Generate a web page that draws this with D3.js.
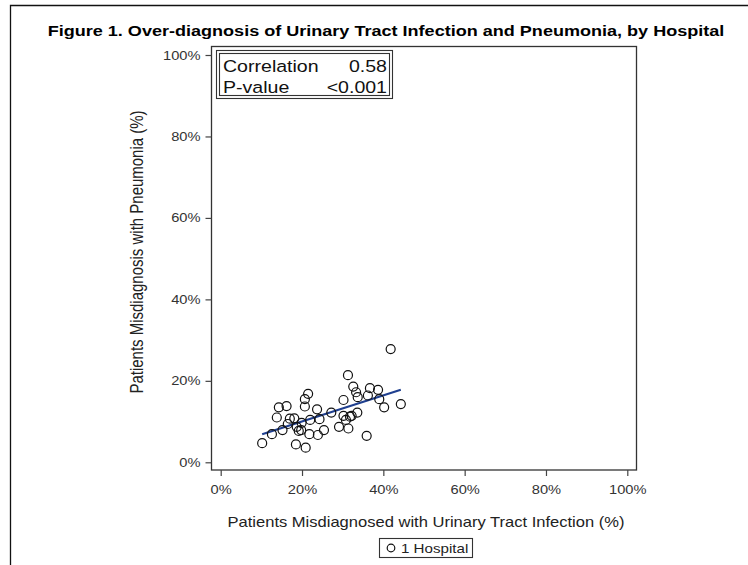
<!DOCTYPE html>
<html>
<head>
<meta charset="utf-8">
<script src="https://cdn.jsdelivr.net/npm/d3@7"></script>
<style>
  html, body { margin: 0; padding: 0; background: #fff; }
  svg { display: block; font-family: "Liberation Sans", Arial, sans-serif; }
</style>
</head>
<body>
<svg id="chart" width="748" height="565"></svg>
<script>
// ---- data ----
const titleText = "Figure 1. Over-diagnosis of Urinary Tract Infection and Pneumonia, by Hospital";
const xLabel = "Patients Misdiagnosed with Urinary Tract Infection (%)";
const yLabel = "Patients Misdiagnosis with Pneumonia (%)";
const seriesName = "1 Hospital";
const tickValues = [0, 20, 40, 60, 80, 100];
const utiPct = [10.2, 12.6, 13.8, 14.3, 16.2, 15.2, 16.5, 17.0, 18.1, 18.7, 19.2, 18.5, 20.9, 19.9, 19.8,
                20.7, 20.7, 21.5, 22.0, 21.8, 23.9, 23.7, 24.3, 25.4, 27.2, 29.1, 30.2, 30.2, 30.8, 31.4,
                31.3, 31.8, 32.6, 33.3, 33.7, 33.6, 32.2, 35.9, 36.2, 36.7, 38.7, 39.0, 40.2, 44.3, 41.8];
const pneuPct = [4.7, 6.9, 11.0, 13.5, 13.8, 7.9, 9.4, 10.7, 10.8, 8.7, 7.7, 4.4, 3.6, 9.7, 7.9,
                 13.7, 15.5, 16.8, 10.4, 6.9, 6.7, 13.0, 10.6, 7.9, 12.2, 8.7, 15.3, 11.4, 10.4, 8.3,
                 21.4, 11.2, 18.6, 17.2, 16.0, 12.2, 11.4, 6.5, 16.4, 18.2, 17.8, 15.5, 13.5, 14.3, 27.8];
const fitX = [10.2, 44.3];
const fitY = [6.9, 17.8];
const statLabels = ["Correlation", "P-value"];
const statValues = ["0.58", "<0.001"];

// ---- layout ----
const svg = d3.select("#chart");
const SX = 1.165; // horizontal stretch of the original figure's lettering
const frame = { left: 211.5, right: 636.5, top: 46.5, bottom: 470 };
const x = d3.scaleLinear().domain([0, 100]).range([220.7, 627.3]);
const y = d3.scaleLinear().domain([0, 100]).range([462.3, 55]);
const textColor = "#222";

function stretched(sel, ax) {
  return sel.attr("transform", `translate(${ax},0) scale(${SX},1) translate(${-ax},0)`);
}

// outer figure border
svg.append("path")
  .attr("d", "M10.5,565 L10.5,5.5 L748,5.5")
  .attr("fill", "none").attr("stroke", "#111").attr("stroke-width", 1.3);

// title
stretched(svg.append("text")
  .attr("x", 386).attr("y", 36)
  .attr("text-anchor", "middle")
  .attr("font-weight", "bold").attr("font-size", 15.5)
  .attr("fill", "#000")
  .text(titleText), 386);

// plot frame
svg.append("rect")
  .attr("x", frame.left).attr("y", frame.top)
  .attr("width", frame.right - frame.left).attr("height", frame.bottom - frame.top)
  .attr("fill", "none").attr("stroke", "#333").attr("stroke-width", 1.3);

// axes
const fmt = d => d + "%";
const xAxis = svg.append("g")
  .attr("transform", `translate(0,${frame.bottom})`)
  .call(d3.axisBottom(x).tickValues(tickValues).tickFormat(fmt).tickSize(6).tickPadding(9));
const yAxis = svg.append("g")
  .attr("transform", `translate(${frame.left},0)`)
  .call(d3.axisLeft(y).tickValues(tickValues).tickFormat(fmt).tickSize(6).tickPadding(5));
[xAxis, yAxis].forEach(g => {
  g.select(".domain").remove();
  g.selectAll(".tick line").attr("stroke", "#444").attr("stroke-width", 1.2);
  g.selectAll(".tick text").attr("font-size", 12.6).attr("fill", "#333")
    .attr("font-family", "Liberation Sans, Arial, sans-serif");
});
xAxis.selectAll(".tick text").attr("transform", `scale(${SX},1)`);
yAxis.selectAll(".tick text").each(function() {
  const ax = +d3.select(this).attr("x");
  stretched(d3.select(this), ax);
});

// axis labels
stretched(svg.append("text")
  .attr("x", 426).attr("y", 527)
  .attr("text-anchor", "middle").attr("font-size", 14.2).attr("fill", textColor)
  .text(xLabel), 426);
svg.append("text")
  .attr("transform", `translate(143,252) scale(${SX},1) rotate(-90)`)
  .attr("text-anchor", "middle").attr("font-size", 15).attr("fill", textColor)
  .text(yLabel);

// fit line
const fitData = fitX.map((v, i) => [v, fitY[i]]);
svg.append("path")
  .datum(fitData)
  .attr("d", d3.line().x(d => x(d[0])).y(d => y(d[1])))
  .attr("fill", "none").attr("stroke", "#1f3f8f").attr("stroke-width", 2.2);

// points
const pts = utiPct.map((v, i) => ({ x: v, y: pneuPct[i] }));
svg.append("g").selectAll("circle")
  .data(pts).join("circle")
  .attr("cx", d => x(d.x)).attr("cy", d => y(d.y))
  .attr("r", 4.5)
  .attr("fill", "none").attr("stroke", "#111").attr("stroke-width", 1.2);

// inset statistics box
const inset = svg.append("g");
inset.append("rect").attr("x", 216.5).attr("y", 50.5).attr("width", 176).attr("height", 48)
  .attr("fill", "#fff").attr("stroke", "#333").attr("stroke-width", 1.1);
inset.append("rect").attr("x", 219.5).attr("y", 53.5).attr("width", 170).attr("height", 42)
  .attr("fill", "none").attr("stroke", "#333").attr("stroke-width", 1.1);
statLabels.forEach((lab, i) => {
  stretched(inset.append("text").attr("x", 223).attr("y", 72 + i * 21.5)
    .attr("font-size", 16.8).attr("fill", "#111").text(lab), 223);
  stretched(inset.append("text").attr("x", 387).attr("y", 72 + i * 21.5)
    .attr("text-anchor", "end").attr("font-size", 16.8).attr("fill", "#111").text(statValues[i]), 387);
});

// legend
const leg = svg.append("g");
leg.append("rect").attr("x", 379.5).attr("y", 538.5).attr("width", 93).attr("height", 19)
  .attr("fill", "#fff").attr("stroke", "#333").attr("stroke-width", 1.1);
leg.append("circle").attr("cx", 391).attr("cy", 548).attr("r", 3.8)
  .attr("fill", "none").attr("stroke", "#111").attr("stroke-width", 1.2);
stretched(leg.append("text").attr("x", 401).attr("y", 553)
  .attr("font-size", 13).attr("fill", textColor).text(seriesName), 401);
</script>
</body>
</html>
